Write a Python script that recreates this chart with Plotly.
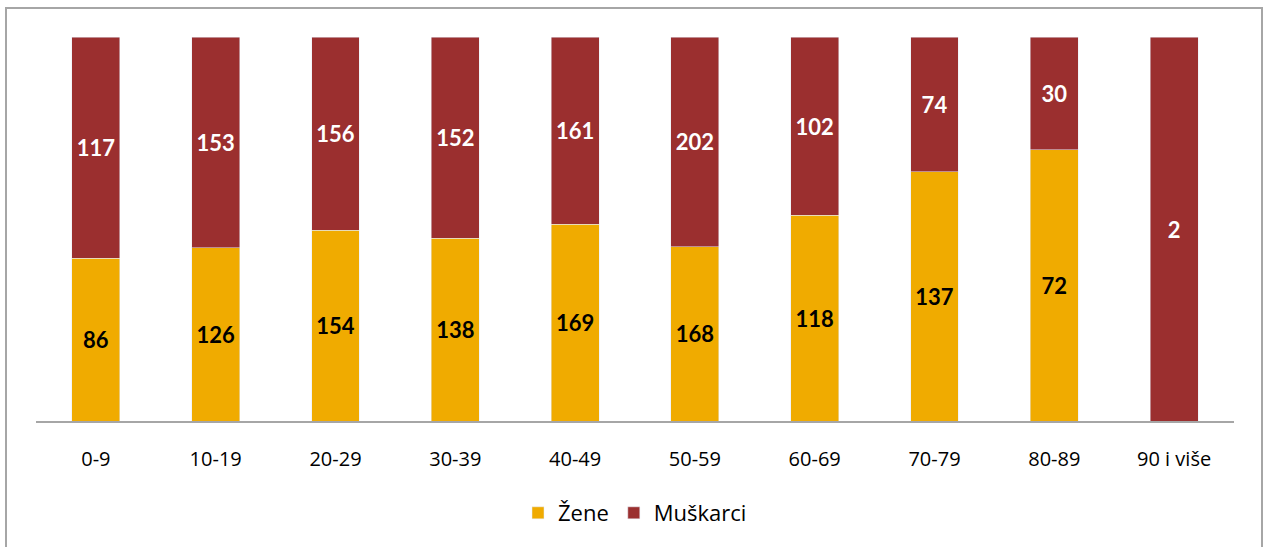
import plotly.graph_objects as go

categories = ["0-9", "10-19", "20-29", "30-39", "40-49", "50-59", "60-69", "70-79", "80-89", "90 i više"]
zene = [86, 126, 154, 138, 169, 168, 118, 137, 72, 0]
muskarci = [117, 153, 156, 152, 161, 202, 102, 74, 30, 2]

def labels(vals):
    return [str(v) if v else "" for v in vals]

fig = go.Figure()
fig.add_trace(go.Bar(
    name="Žene", x=categories, y=zene, marker_color="#F0AB00",
    text=labels(zene), textposition="inside", insidetextanchor="middle",
    textfont=dict(family="Lato", size=22, color="#000000", weight="bold"),
    textangle=0,
))
fig.add_trace(go.Bar(
    name="Muškarci", x=categories, y=muskarci, marker_color="#9B2F2F",
    text=labels(muskarci), textposition="inside", insidetextanchor="middle",
    textfont=dict(family="Lato", size=22, color="#FFFFFF", weight="bold"),
    textangle=0,
))

L, R, T, B = 36, 30, 37, 126
W, H = 1264, 547
pw, ph = W - L - R, H - T - B

fig.update_layout(
    barmode="stack", barnorm="percent", bargap=0.6,
    width=W, height=H,
    margin=dict(l=L, r=R, t=T, b=B),
    paper_bgcolor="white", plot_bgcolor="white",
    font=dict(family="Open Sans", size=19, color="#000000"),
    legend=dict(orientation="h", x=0.5, xanchor="center", y=(421 - 513) / ph, yanchor="middle",
                font=dict(size=22), itemwidth=30, traceorder="normal"),
    xaxis=dict(showline=True, linecolor="#A6A6A6", linewidth=2, showgrid=False,
               ticks="", ticklabelstandoff=19, tickfont=dict(size=20)),
    yaxis=dict(visible=False, range=[0, 100]),
    shapes=[dict(type="rect", xref="paper", yref="paper",
                 x0=(6 - L) / pw, x1=(1262 - L) / pw,
                 y0=(421 - 560) / ph, y1=(421 - 8) / ph,
                 line=dict(color="#A6A6A6", width=2), fillcolor="rgba(0,0,0,0)", layer="below")],
)

fig.write_html("out.html", config={"displayModeBar": False},
               post_script="document.body.style.margin='0';document.body.style.overflow='hidden';")
